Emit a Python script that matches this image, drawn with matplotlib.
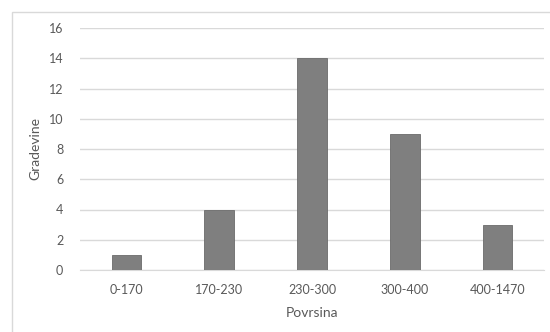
import matplotlib
matplotlib.use("Agg")
import matplotlib.pyplot as plt
from matplotlib.patches import Rectangle

# Data
categories = ["0-170", "170-230", "230-300", "300-400", "400-1470"]
counts = [1, 4, 14, 9, 3]

plt.rcParams['font.family'] = ['Lato', 'DejaVu Sans']
text_col = "#595959"

fig = plt.figure(figsize=(5.5, 3.32), dpi=100)
fig.patches.append(Rectangle((12 / 550, -0.1), 1.2, 1 - 12 / 332 + 0.1,
                             transform=fig.transFigure, fill=False,
                             edgecolor="#d9d9d9", lw=1, zorder=0))

ax = fig.add_axes([80 / 550, 1 - 270 / 332, 464 / 550, 242 / 332])
x = range(len(categories))
ax.bar(x, counts, width=0.32, color="#7f7f7f", edgecolor="#6b6b6b", lw=0.6, zorder=3)

ax.set_xlim(-0.5, len(categories) - 0.5)
ax.set_ylim(0, 16)
ax.set_yticks(range(0, 17, 2))
ax.set_xticks(list(x))
ax.set_xticklabels(categories)
ax.grid(axis="y", color="#d9d9d9", lw=1, zorder=0)
for s in ["top", "right", "left"]:
    ax.spines[s].set_visible(False)
ax.spines["bottom"].set_color("#d9d9d9")
ax.tick_params(length=0, colors=text_col, labelsize=9)
ax.tick_params(axis="x", pad=10)
ax.tick_params(axis="y", pad=12)
ax.set_xlabel("Povrsina", color=text_col, fontsize=10, labelpad=8)
ax.set_ylabel("Gradevine", color=text_col, fontsize=10, labelpad=5)

fig.savefig("out.png", dpi=100)
